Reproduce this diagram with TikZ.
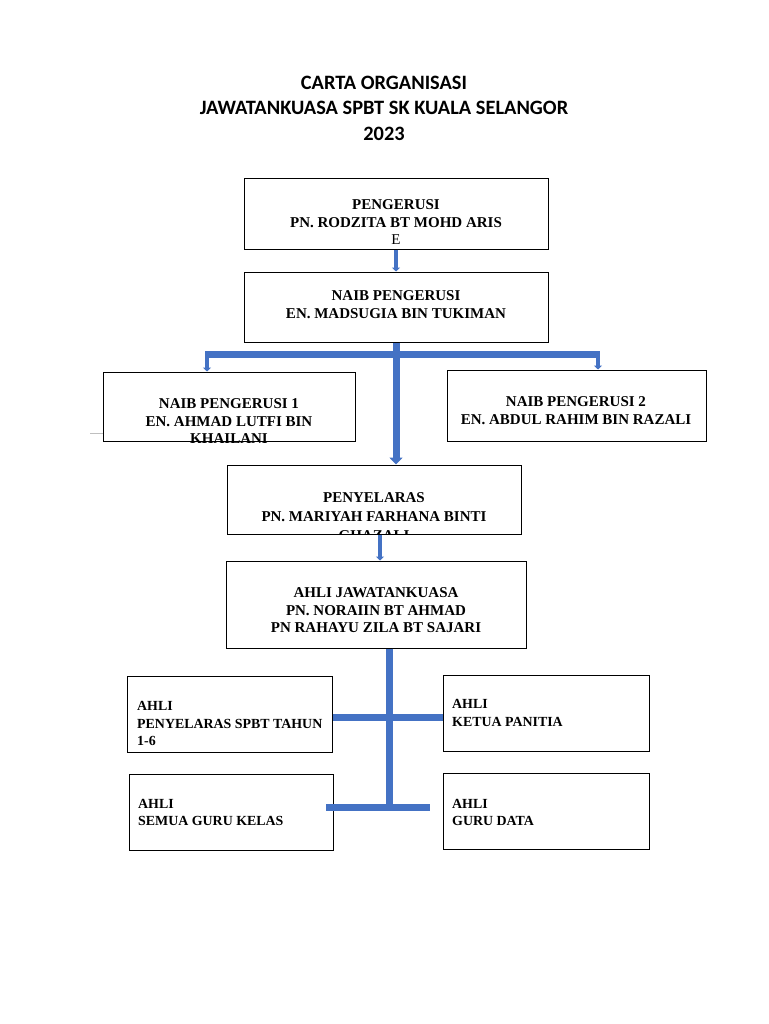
\documentclass[tikz,border=0pt]{standalone}
\usepackage{fontspec}
\setmainfont{Liberation Serif}
\newfontfamily\titlefont{Carlito}
\usetikzlibrary{arrows.meta}
\definecolor{linkblue}{HTML}{4472C4}
\begin{document}
\begin{tikzpicture}[x=1pt,y=-1pt,
  box/.style={draw=black, line width=1pt, rectangle, inner sep=0pt},
  txt/.style={font=\fontsize{15}{17.5}\selectfont\bfseries, align=center, inner sep=0pt},
  ltxt/.style={font=\fontsize{13.9}{17.2}\selectfont\bfseries, align=left, inner sep=0pt, anchor=west},
  thin/.style={draw=linkblue, line width=4pt},
  thick/.style={draw=linkblue, line width=7pt},
  tip/.style={-{Triangle[width=8pt,length=4pt]}},
  bigtip/.style={-{Triangle[width=13pt,length=7pt]}}]
\useasboundingbox (0,0) rectangle (768,1024);
\fill[white] (0,0) rectangle (768,1024);

% title
\node[font=\titlefont\fontsize{20.4}{25.5}\selectfont\bfseries, align=center, inner sep=0pt] (title) at (384,108)
  {CARTA ORGANISASI\\JAWATANKUASA SPBT SK KUALA SELANGOR\\2023};

% boxes
\node[box, minimum width=304pt, minimum height=70pt] (pg) at (396,214) {};
\node[box, minimum width=304pt, minimum height=70pt] (naib) at (396,307) {};
\node[box, minimum width=252pt, minimum height=69pt] (n1) at (229,406.5) {};
\node[box, minimum width=259pt, minimum height=71pt] (n2) at (576.5,405.5) {};
\node[box, minimum width=294pt, minimum height=69pt] (pny) at (374,499.5) {};
\node[box, minimum width=300pt, minimum height=87pt] (ajk) at (376,604.5) {};
\node[box, minimum width=205pt, minimum height=76pt] (a1) at (229.5,714) {};
\node[box, minimum width=206pt, minimum height=76pt] (a2) at (546,713) {};
\node[box, minimum width=204pt, minimum height=76pt] (a3) at (231,812) {};
\node[box, minimum width=206pt, minimum height=76pt] (a4) at (546,811) {};

% texts
\node[txt] (tpg) at (396,222.5) {PENGERUSI\\PN. RODZITA BT MOHD ARIS\\{\mdseries E}};
\node[txt] (tnaib) at (396,304.5) {NAIB PENGERUSI\\EN. MADSUGIA BIN TUKIMAN};
\node[txt] (tn1) at (229,421.5) {NAIB PENGERUSI 1\\EN. AHMAD LUTFI BIN\\KHAILANI};
\node[txt] (tn2) at (576,410.5) {NAIB PENGERUSI 2\\EN. ABDUL RAHIM BIN RAZALI};
\begin{scope}
  \clip (pny.north west) rectangle (pny.south east);
  \node[txt, font=\fontsize{15}{19}\selectfont\bfseries] (tpny) at (374,517) {PENYELARAS\\PN. MARIYAH FARHANA BINTI\\GHAZALI};
\end{scope}
\node[txt] (tajk) at (376,610.5) {AHLI JAWATANKUASA\\PN. NORAIIN BT AHMAD\\PN RAHAYU ZILA BT SAJARI};
\node[ltxt] (ta1) at (137,723.5) {AHLI\\PENYELARAS SPBT TAHUN\\1-6};
\node[ltxt] (ta2) at (452,713) {AHLI\\KETUA PANITIA};
\node[ltxt] (ta3) at (138,812.5) {AHLI\\SEMUA GURU KELAS};
\node[ltxt] (ta4) at (452,812.5) {AHLI\\GURU DATA};

% stray mark
\coordinate (m1) at (90,433);
\coordinate (m2) at (103,433);
\draw[gray!50, line width=0.6pt] (m1) -- (m2);

% connectors
\draw[thin, tip] (pg.south) -- (naib.north);

\coordinate (bl) at (205,354);
\coordinate (br) at (600,354);
\coordinate (blx) at (207,354);
\coordinate (brx) at (598,354);
\draw[thick] (bl) -- (br);
\draw[thin, tip] (blx) -- (blx |- n1.north);
\draw[thin, tip] (brx) -- (brx |- n2.north);
\draw[thick, bigtip] (naib.south) -- (naib.south |- pny.north);

\coordinate (c1) at (380,0);
\draw[thin, tip] (pny.south -| c1) -- (ajk.north -| c1);

\coordinate (t1) at (389,0);
\coordinate (tb) at (389,807);
\draw[thick] (ajk.south -| t1) -- (tb);
\coordinate (h1) at (0,717);
\draw[thick] (a1.east |- h1) -- (a2.west |- h1);
\coordinate (h2l) at (326,807);
\coordinate (h2r) at (430,807);
\draw[thick] (h2l) -- (h2r);
\end{tikzpicture}
\end{document}
